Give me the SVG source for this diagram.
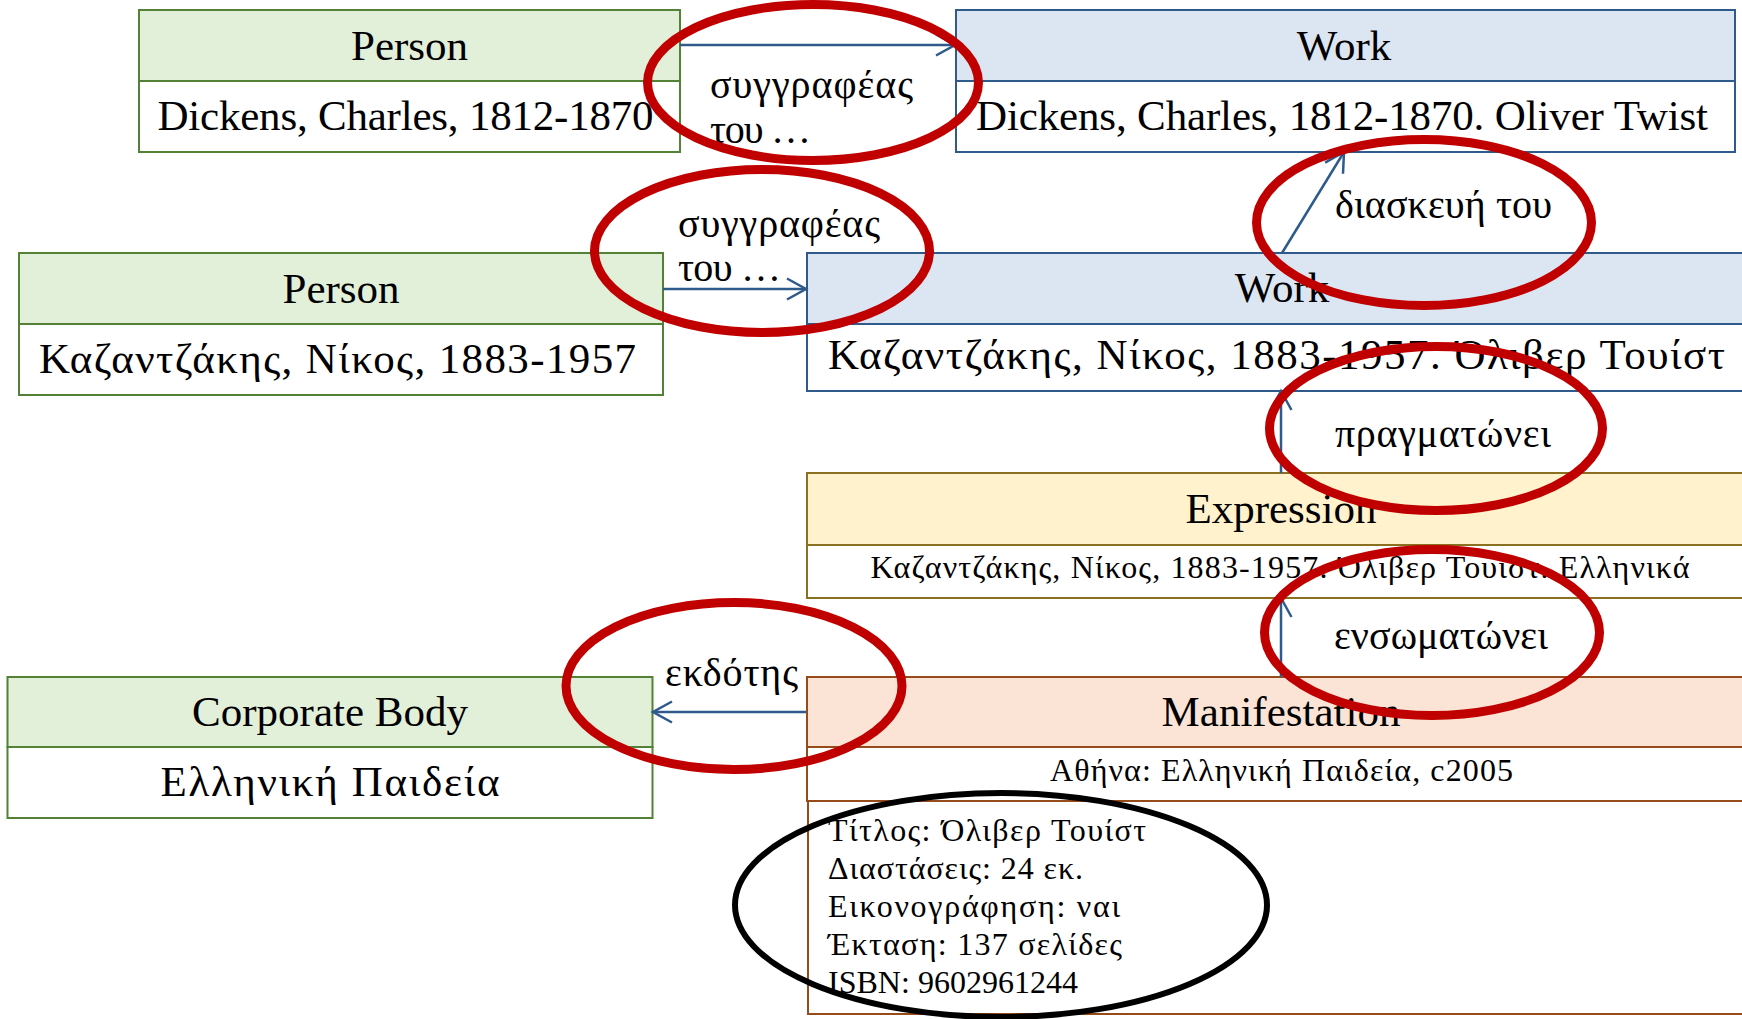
<svg xmlns="http://www.w3.org/2000/svg" width="1742" height="1019" viewBox="0 0 1742 1019">
<defs>
<style>
text{font-family:"Liberation Serif","Times New Roman",serif;fill:#000}
.t43{font-size:43px}
.t40{font-size:40px}
.t32{font-size:32px}
.mid{text-anchor:middle}
.g{stroke:#538135;stroke-width:2}
.gh{fill:#e2efd9}
.b{stroke:#2e5b8c;stroke-width:2}
.bh{fill:#dce6f2}
.y{stroke:#8a7020;stroke-width:2}
.yh{fill:#fff2cc}
.o{stroke:#974a1a;stroke-width:2}
.oh{fill:#fbe4d5}
.w{fill:#fff}
.conn{stroke:#2e5b8c;stroke-width:2.5;fill:none;marker-end:url(#arr)}
.red{fill:none;stroke:#c00000;stroke-width:9}
.blk{fill:none;stroke:#000;stroke-width:6}
</style>
<marker id="arr" markerUnits="userSpaceOnUse" markerWidth="24" markerHeight="26" refX="21" refY="13" orient="auto" viewBox="0 0 24 26">
<path d="M2,2.5 L21,13 L2,23.5" fill="none" stroke="#2e5b8c" stroke-width="2.5"/>
</marker>
</defs>

<g id="person1">
<rect class="gh g" x="139" y="10" width="541" height="71"/>
<rect class="w g" x="139" y="81" width="541" height="71"/>
<text class="t43 mid" x="409.5" y="60">Person</text>
<text class="t43 mid" x="405.5" y="130" textLength="496">Dickens, Charles, 1812-1870</text>
</g>

<g id="work1">
<rect class="bh b" x="956" y="10" width="779" height="71"/>
<rect class="w b" x="956" y="81" width="779" height="71"/>
<text class="t43 mid" x="1344" y="60">Work</text>
<text class="t43 mid" x="1342" y="130" textLength="732">Dickens, Charles, 1812-1870. Oliver Twist</text>
</g>

<g id="person2">
<rect class="gh g" x="19" y="253" width="644" height="71"/>
<rect class="w g" x="19" y="324" width="644" height="71"/>
<text class="t43 mid" x="341" y="303">Person</text>
<text class="t43 mid" x="337.5" y="373" textLength="597">Καζαντζάκης, Νίκος, 1883-1957</text>
</g>

<g id="work2">
<rect class="bh b" x="807" y="253" width="950" height="71"/>
<rect class="w b" x="807" y="324" width="950" height="67"/>
<text class="t43 mid" x="1282" y="302">Work</text>
<text class="t43 mid" x="1276.5" y="369" textLength="897">Καζαντζάκης, Νίκος, 1883-1957. Όλιβερ Τουίστ</text>
</g>

<g id="expression">
<rect class="yh y" x="807" y="473" width="950" height="72"/>
<rect class="w y" x="807" y="545" width="950" height="53"/>
<text class="t43 mid" x="1281" y="523">Expression</text>
<text class="t32 mid" x="1280" y="578" textLength="819">Καζαντζάκης, Νίκος, 1883-1957. Όλιβερ Τουίστ. Ελληνικά</text>
</g>

<g id="manifestation">
<rect class="oh o" x="807" y="677" width="950" height="70"/>
<rect class="w o" x="807" y="747" width="950" height="54"/>
<rect class="w o" x="808" y="801" width="950" height="213"/>
<text class="t43 mid" x="1281" y="726">Manifestation</text>
<text class="t32 mid" x="1281.5" y="781" textLength="463">Αθήνα: Ελληνική Παιδεία, c2005</text>
<text class="t32" x="828" y="841" textLength="318">Τίτλος: Όλιβερ Τουίστ</text>
<text class="t32" x="828" y="879" textLength="255">Διαστάσεις: 24 εκ.</text>
<text class="t32" x="828" y="917" textLength="292">Εικονογράφηση: ναι</text>
<text class="t32" x="828" y="955" textLength="294">Έκταση: 137 σελίδες</text>
<text class="t32" x="828" y="993" textLength="250">ISBN: 9602961244</text>
</g>

<g id="corporate-body">
<rect class="gh g" x="7.5" y="677" width="645" height="70"/>
<rect class="w g" x="7.5" y="747" width="645" height="71"/>
<text class="t43 mid" x="330" y="726">Corporate Body</text>
<text class="t43 mid" x="330" y="796" textLength="339">Ελληνική Παιδεία</text>
</g>

<g id="connectors">
<line class="conn" x1="680" y1="45" x2="955" y2="45"/>
<line class="conn" x1="663" y1="289" x2="806" y2="289"/>
<line class="conn" x1="1282" y1="253" x2="1344" y2="152"/>
<line class="conn" x1="1281" y1="473" x2="1281" y2="391"/>
<line class="conn" x1="1281" y1="677" x2="1281" y2="598"/>
<line class="conn" x1="806" y1="712" x2="653" y2="712"/>
<text class="t40" x="710" y="98" textLength="203">συγγραφέας</text>
<text class="t40" x="710" y="143" textLength="101">του …</text>
<text class="t40" x="678" y="237" textLength="202">συγγραφέας</text>
<text class="t40" x="678" y="281" textLength="103">του …</text>
<text class="t40" x="1335" y="218" textLength="217">διασκευή του</text>
<text class="t40" x="1335" y="447" textLength="216">πραγματώνει</text>
<text class="t40" x="1334" y="649" textLength="214">ενσωματώνει</text>
<text class="t40" x="665" y="686" textLength="133">εκδότης</text>
</g>

<g id="highlights">
<ellipse class="red" cx="813" cy="82.5" rx="165.5" ry="78"/>
<ellipse class="red" cx="762" cy="251" rx="167.5" ry="81.5"/>
<ellipse class="red" cx="1424" cy="222.5" rx="167.5" ry="83"/>
<ellipse class="red" cx="1436" cy="428.5" rx="166.5" ry="82"/>
<ellipse class="red" cx="1432" cy="632.5" rx="167.5" ry="83"/>
<ellipse class="red" cx="734" cy="686" rx="168" ry="83.5"/>
<ellipse class="blk" cx="1001" cy="905" rx="266" ry="112"/>
</g>
</svg>
